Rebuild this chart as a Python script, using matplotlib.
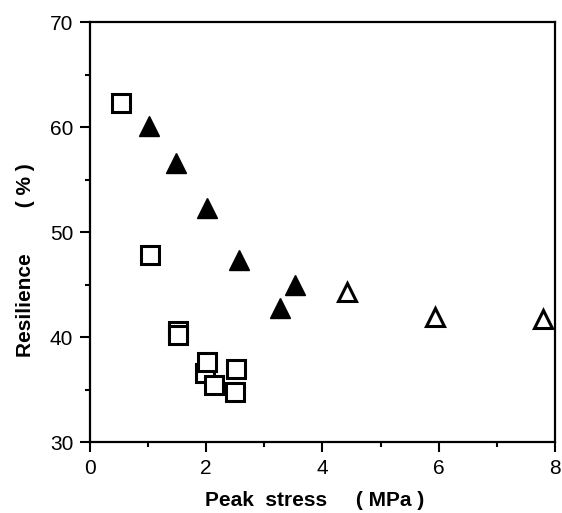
import matplotlib
matplotlib.use("Agg")
import matplotlib.pyplot as plt
from matplotlib.ticker import MultipleLocator

plt.rcParams["font.family"] = ["Liberation Sans", "DejaVu Sans"]

# open squares
sq_x = [0.54, 1.04, 1.52, 1.52, 1.98, 2.01, 2.14, 2.52, 2.49]
sq_y = [62.3, 47.8, 40.6, 40.25, 36.6, 37.6, 35.45, 36.95, 34.8]

# filled triangles
ft_x = [1.01, 1.48, 2.02, 2.56, 3.27, 3.53]
ft_y = [60.1, 56.6, 52.3, 47.35, 42.8, 44.95]

# open triangles
ot_x = [4.43, 5.94, 7.80]
ot_y = [44.3, 41.9, 41.7]

fig = plt.figure(figsize=(5.62, 5.13), dpi=100)
ax = fig.add_axes([0.160, 0.138, 0.8275, 0.819])

for x, y in zip(sq_x, sq_y):
    ax.plot(x, y, linestyle="none", marker="s", markersize=12.5, markerfacecolor="white",
            markeredgecolor="black", markeredgewidth=2.2, clip_on=False)
ax.plot(ft_x, ft_y, linestyle="none", marker="^", markersize=15, color="black",
        markeredgewidth=1, clip_on=False)
ax.plot(ot_x, ot_y, linestyle="none", marker="^", markersize=13, markerfacecolor="white",
        markeredgecolor="black", markeredgewidth=2.2, clip_on=False)

ax.set_xlim(0, 8)
ax.set_ylim(30, 70)
ax.xaxis.set_major_locator(MultipleLocator(2))
ax.xaxis.set_minor_locator(MultipleLocator(1))
ax.yaxis.set_major_locator(MultipleLocator(10))
ax.yaxis.set_minor_locator(MultipleLocator(5))
ax.tick_params(which="major", direction="out", length=7, width=1.5, labelsize=15, pad=5)
ax.tick_params(which="minor", direction="out", length=3.5, width=1.5)
for sp in ax.spines.values():
    sp.set_linewidth(1.6)

ax.set_xlabel("Peak  stress     ( MPa )", fontsize=15, fontweight="bold")
ax.set_ylabel("Resilience        ( % )", fontsize=15, fontweight="bold")
ax.xaxis.set_label_coords(0.483, -0.115)
ax.yaxis.set_label_coords(-0.118, 0.433)

fig.savefig("out.png", dpi=100)
